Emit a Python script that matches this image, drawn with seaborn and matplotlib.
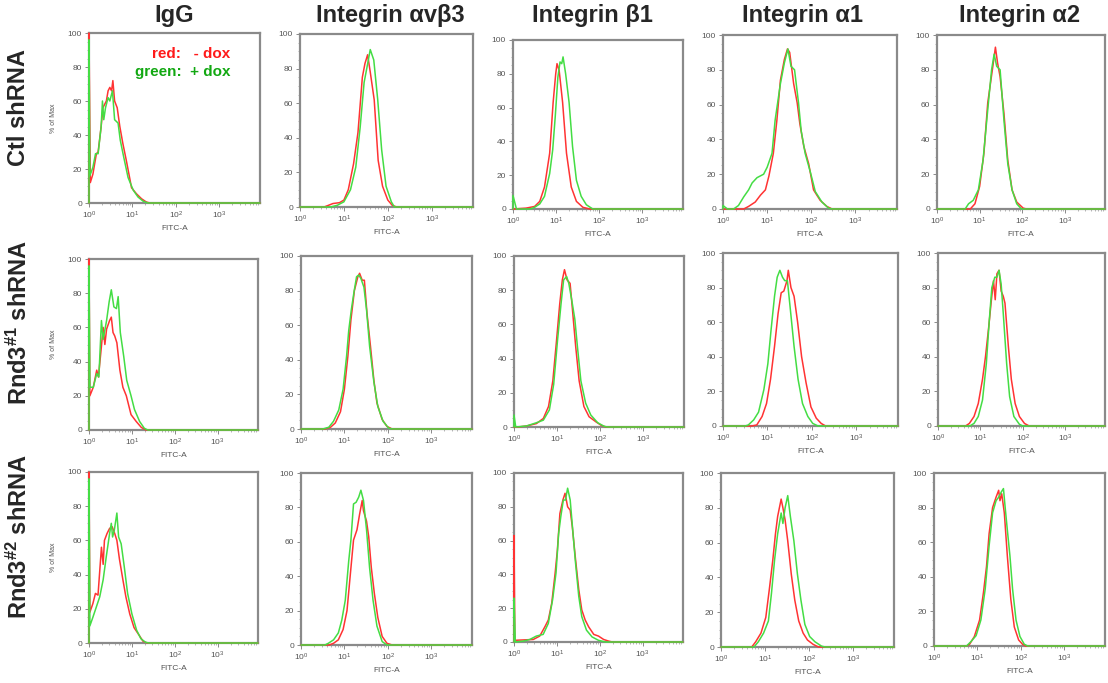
import numpy as np
import matplotlib
matplotlib.use('Agg')
import matplotlib.pyplot as plt
import seaborn as sns
from matplotlib.ticker import LogLocator, MultipleLocator, NullFormatter

# flow histograms: (log10 FITC, % of max)
ctl_igg_red = [(0, 100), (0.03, 12), (0.09, 17), (0.17, 29), (0.21, 30), (0.28, 45), (0.32, 56), (0.4, 60), (0.44, 66),
               (0.48, 68), (0.52, 66), (0.55, 72), (0.59, 60), (0.65, 56), (0.71, 45), (0.78, 35), (0.86, 25), (0.98, 9),
               (1.09, 5.5), (1.21, 2.5), (1.32, 0.6), (1.4, 0)]
ctl_igg_green = [(0, 96), (0.02, 16), (0.09, 21), (0.15, 29), (0.21, 29), (0.28, 45), (0.31, 60), (0.34, 49), (0.38, 56),
                 (0.44, 62), (0.48, 60), (0.54, 66), (0.59, 49), (0.67, 47), (0.72, 37), (0.8, 27), (0.9, 15), (1.02, 7.5),
                 (1.13, 3.5), (1.25, 1), (1.36, 0)]
ctl_avb3_red = [(0.55, 0), (0.65, 1), (0.75, 2), (0.9, 2.5), (1.0, 4), (1.1, 10), (1.22, 25), (1.32, 43), (1.42, 75),
                (1.48, 83), (1.54, 88), (1.6, 78), (1.69, 62), (1.78, 27), (1.88, 12), (2.0, 4), (2.1, 1), (2.2, 0)]
ctl_avb3_green = [(0.7, 0), (0.85, 1), (1.0, 3), (1.15, 10), (1.27, 23), (1.37, 46), (1.46, 72), (1.52, 80), (1.6, 91),
                  (1.68, 85), (1.77, 62), (1.86, 33), (1.96, 12), (2.08, 3), (2.15, 0)]
ctl_b1_red = [(0.3, 0.5), (0.5, 1.5), (0.62, 4.5), (0.73, 13), (0.85, 33), (0.93, 63), (0.99, 80), (1.02, 86), (1.07, 82),
              (1.15, 63), (1.24, 33), (1.35, 13), (1.47, 4.5), (1.62, 1), (1.78, 0)]
ctl_b1_green = [(0, 8), (0.05, 3), (0.08, 0), (0.4, 0), (0.5, 1), (0.62, 3), (0.73, 7.5), (0.85, 21), (0.92, 35),
                (0.98, 55), (1.04, 78), (1.09, 87), (1.13, 86), (1.16, 90), (1.22, 80), (1.3, 63), (1.38, 37), (1.47, 17),
                (1.58, 7.5), (1.7, 2.5), (1.85, 0)]
ctl_a1_red = [(0.47, 0), (0.58, 1.5), (0.73, 4), (0.85, 8), (0.96, 11), (1.04, 19), (1.14, 32), (1.22, 51), (1.3, 74),
              (1.39, 86), (1.46, 92), (1.51, 90), (1.6, 72), (1.68, 61), (1.74, 49), (1.83, 36), (1.94, 26), (2.05, 11),
              (2.2, 5), (2.35, 1.5), (2.47, 0)]
ctl_a1_green = [(0, 2), (0.1, 0), (0.24, 0), (0.35, 2), (0.47, 7), (0.58, 11), (0.66, 15), (0.77, 18), (0.92, 20),
                (1.0, 24), (1.11, 32), (1.18, 51), (1.3, 72), (1.39, 84), (1.47, 92), (1.54, 82), (1.62, 80), (1.71, 61),
                (1.77, 45), (1.86, 32), (1.98, 21), (2.09, 10), (2.24, 4), (2.39, 0.5), (2.47, 0)]
ctl_a2_red = [(0.78, 0), (0.89, 3), (1.0, 13), (1.1, 32), (1.19, 61), (1.31, 82), (1.37, 93), (1.42, 84), (1.48, 76),
              (1.57, 55), (1.66, 28), (1.76, 11), (1.87, 4), (2.02, 0.5), (2.1, 0)]
ctl_a2_green = [(0.66, 0), (0.74, 3), (0.85, 5), (0.97, 11), (1.08, 28), (1.19, 57), (1.28, 80), (1.34, 89), (1.4, 82),
                (1.48, 80), (1.57, 51), (1.66, 26), (1.76, 11), (1.87, 3), (1.98, 0)]

r1_igg_red = [(0, 100), (0.02, 20), (0.1, 25), (0.18, 35), (0.22, 31), (0.29, 49), (0.33, 60), (0.37, 50), (0.41, 59),
              (0.48, 64), (0.52, 66), (0.56, 57), (0.6, 55), (0.65, 51), (0.72, 35), (0.79, 25), (0.87, 20), (0.98, 9),
              (1.1, 5), (1.22, 1.5), (1.33, 0)]
r1_igg_green = [(0, 96), (0.02, 25), (0.1, 25), (0.18, 33), (0.23, 31), (0.29, 64), (0.33, 53), (0.41, 64), (0.47, 75),
                (0.52, 82), (0.58, 72), (0.64, 71), (0.68, 78), (0.73, 57), (0.81, 43), (0.88, 29), (0.98, 20), (1.06, 12),
                (1.18, 5), (1.29, 1), (1.37, 0)]
r1_avb3_red = [(0.55, 0), (0.68, 1), (0.79, 3.5), (0.91, 10), (1.0, 23), (1.08, 42), (1.15, 63), (1.23, 80), (1.31, 88),
               (1.35, 90), (1.41, 86), (1.46, 86), (1.52, 67), (1.6, 48), (1.68, 28), (1.75, 15), (1.87, 5.5), (1.98, 1.5),
               (2.1, 0)]
r1_avb3_green = [(0.5, 0), (0.64, 1), (0.75, 4.5), (0.87, 11), (0.97, 23), (1.05, 42), (1.1, 57), (1.16, 69), (1.22, 79),
                 (1.28, 88), (1.33, 89), (1.38, 87), (1.45, 82), (1.51, 69), (1.58, 48), (1.68, 27), (1.77, 13),
                 (1.89, 4.5), (2.02, 0.5), (2.1, 0)]
r1_b1_red = [(0.1, 0), (0.29, 0.6), (0.52, 2), (0.68, 5), (0.8, 12), (0.9, 27), (0.98, 49), (1.06, 72), (1.12, 86),
             (1.17, 92), (1.23, 86), (1.3, 84), (1.35, 70), (1.43, 47), (1.51, 27), (1.62, 12), (1.74, 6), (1.9, 3),
             (2.02, 1), (2.13, 0)]
r1_b1_green = [(0, 7), (0.04, 0), (0.29, 0.6), (0.52, 2.5), (0.68, 4), (0.82, 10), (0.92, 25), (1.01, 51), (1.09, 72),
               (1.15, 86), (1.22, 88), (1.27, 84), (1.34, 74), (1.41, 63), (1.47, 47), (1.55, 27), (1.66, 14), (1.78, 7),
               (1.94, 2.5), (2.09, 0.4), (2.17, 0)]
r1_a1_red = [(0.65, 0), (0.76, 0.6), (0.88, 5.5), (0.98, 13), (1.07, 27), (1.16, 46), (1.24, 65), (1.31, 77), (1.37, 78),
             (1.44, 84), (1.47, 90), (1.53, 80), (1.6, 75), (1.68, 60), (1.77, 40), (1.87, 25), (1.98, 11), (2.1, 4.5),
             (2.21, 1.5), (2.31, 0)]
r1_a1_green = [(0.5, 0), (0.57, 0.6), (0.69, 3.5), (0.8, 8), (0.92, 21), (1.01, 36), (1.08, 55), (1.16, 75), (1.22, 86),
               (1.28, 90), (1.34, 86), (1.39, 84), (1.45, 84), (1.51, 69), (1.6, 46), (1.69, 27), (1.79, 13), (1.91, 5.5),
               (2.02, 1.5), (2.14, 0)]
r1_a2_red = [(0.65, 0), (0.74, 1.5), (0.85, 5.5), (0.95, 13), (1.05, 27), (1.12, 40), (1.2, 58), (1.26, 73), (1.31, 84),
             (1.35, 73), (1.39, 88), (1.44, 90), (1.49, 78), (1.54, 75), (1.58, 71), (1.66, 46), (1.73, 27), (1.82, 13),
             (1.92, 5.5), (2.04, 1.5), (2.15, 0)]
r1_a2_green = [(0.75, 0), (0.85, 1.5), (0.95, 5.5), (1.05, 15), (1.14, 36), (1.21, 61), (1.27, 80), (1.34, 86), (1.39, 86),
               (1.44, 90), (1.49, 82), (1.54, 65), (1.62, 36), (1.69, 17), (1.79, 5.5), (1.92, 1), (2.0, 0)]

r2_igg_red = [(0, 100), (0.02, 18), (0.09, 23), (0.15, 29), (0.21, 28), (0.29, 56), (0.33, 46), (0.36, 60), (0.42, 64),
              (0.48, 67), (0.54, 68), (0.6, 64), (0.65, 60), (0.71, 49), (0.79, 37), (0.86, 27), (0.95, 17), (1.05, 9),
              (1.17, 4.5), (1.26, 1), (1.36, 0)]
r2_igg_green = [(0, 96), (0.02, 10), (0.09, 15), (0.17, 21), (0.25, 27), (0.33, 37), (0.4, 50), (0.48, 64), (0.52, 70),
                (0.55, 62), (0.59, 66), (0.65, 76), (0.69, 62), (0.75, 58), (0.82, 45), (0.9, 29), (1.0, 17), (1.11, 7.5),
                (1.21, 2.5), (1.32, 0.4), (1.4, 0)]
r2_avb3_red = [(0.65, 0), (0.75, 1), (0.86, 3), (0.97, 9), (1.06, 20), (1.14, 42), (1.21, 61), (1.29, 67), (1.35, 76),
               (1.41, 84), (1.44, 78), (1.51, 72), (1.56, 63), (1.62, 45), (1.69, 30), (1.77, 16), (1.87, 5), (1.98, 1),
               (2.1, 0)]
r2_avb3_green = [(0.55, 0), (0.63, 1), (0.75, 3), (0.86, 7), (0.94, 14.5), (1.02, 26), (1.1, 49), (1.15, 61), (1.21, 82),
                 (1.27, 83), (1.33, 86), (1.38, 90), (1.44, 84), (1.51, 67), (1.58, 45), (1.66, 26), (1.75, 11), (1.87, 2),
                 (1.98, 0)]
r2_b1_red = [(0, 63), (0.02, 1), (0.45, 1.5), (0.6, 3.5), (0.72, 9), (0.8, 13), (0.88, 23), (0.96, 41), (1.01, 54),
             (1.07, 76), (1.14, 84), (1.19, 88), (1.25, 80), (1.31, 78), (1.36, 68), (1.43, 50), (1.51, 31), (1.58, 19),
             (1.66, 13), (1.74, 9), (1.86, 4.5), (1.97, 3.5), (2.09, 1.5), (2.21, 0.5), (2.29, 0)]
r2_b1_green = [(0, 26), (0.03, 0), (0.21, 0.5), (0.37, 1.5), (0.52, 3.5), (0.68, 4.5), (0.8, 11), (0.9, 25), (0.98, 41),
               (1.04, 64), (1.09, 74), (1.15, 84), (1.2, 84), (1.25, 91), (1.31, 84), (1.37, 66), (1.43, 48), (1.51, 27),
               (1.58, 15), (1.69, 7), (1.82, 3), (1.97, 1), (2.13, 0)]
r2_a1_red = [(0.7, 0), (0.79, 3), (0.91, 8), (1.02, 17), (1.1, 33), (1.18, 50), (1.24, 65), (1.29, 75), (1.33, 80),
             (1.37, 85), (1.41, 80), (1.46, 73), (1.52, 61), (1.6, 42), (1.68, 27), (1.77, 15), (1.87, 8), (1.97, 4),
             (2.1, 1.5), (2.22, 0)]
r2_a1_green = [(0.75, 0), (0.85, 3), (0.97, 8), (1.08, 15), (1.15, 31), (1.22, 50), (1.29, 65), (1.37, 77), (1.41, 71),
               (1.46, 80), (1.52, 87), (1.58, 75), (1.66, 61), (1.74, 42), (1.82, 27), (1.91, 13), (2.02, 6), (2.14, 3),
               (2.29, 0.5), (2.37, 0)]
r2_a2_red = [(0.75, 0), (0.82, 1), (0.93, 5.5), (1.05, 15), (1.14, 31), (1.21, 46), (1.27, 65), (1.35, 80), (1.43, 86),
             (1.49, 90), (1.52, 84), (1.56, 88), (1.62, 77), (1.69, 52), (1.77, 27), (1.85, 11), (1.95, 3.5), (2.04, 1),
             (2.11, 0)]
r2_a2_green = [(0.75, 0), (0.85, 2.5), (0.97, 6), (1.08, 15), (1.18, 33), (1.27, 58), (1.35, 77), (1.43, 84), (1.49, 86),
               (1.55, 89), (1.6, 91), (1.64, 80), (1.69, 67), (1.75, 52), (1.81, 33), (1.89, 15), (1.98, 5.5), (2.08, 1),
               (2.16, 0)]

col_titles = ['IgG', 'Integrin \u03b1v\u03b23', 'Integrin \u03b21', 'Integrin \u03b11', 'Integrin \u03b12']
row_titles = ['Ctl shRNA', r'Rnd3$^{\mathbf{\#1}}$ shRNA', r'Rnd3$^{\mathbf{\#2}}$ shRNA']
x_ticks = [1, 10, 100, 1000]
x_ticklabels = [r'$10^{0}$', r'$10^{1}$', r'$10^{2}$', r'$10^{3}$']
y_ticks = [0, 20, 40, 60, 80, 100]

curves = [
    [(ctl_igg_red, ctl_igg_green), (ctl_avb3_red, ctl_avb3_green), (ctl_b1_red, ctl_b1_green),
     (ctl_a1_red, ctl_a1_green), (ctl_a2_red, ctl_a2_green)],
    [(r1_igg_red, r1_igg_green), (r1_avb3_red, r1_avb3_green), (r1_b1_red, r1_b1_green),
     (r1_a1_red, r1_a1_green), (r1_a2_red, r1_a2_green)],
    [(r2_igg_red, r2_igg_green), (r2_avb3_red, r2_avb3_green), (r2_b1_red, r2_b1_green),
     (r2_a1_red, r2_a1_green), (r2_a2_red, r2_a2_green)],
]

# panel frames in pixels (left, top, right, bottom) - the panels are pasted, not on a strict grid
W, H = 1108, 683
boxes = [
    [(89, 33, 260, 203), (300, 34, 473, 207), (513, 40, 683, 209), (723, 35, 897, 209), (937, 35, 1105, 209)],
    [(89, 259, 258, 430), (301, 256, 472, 429), (514, 256, 684, 427), (723, 253, 898, 426), (938, 253, 1105, 426)],
    [(89, 472, 258, 643), (301, 473, 472, 645), (514, 473, 683, 642), (721, 473, 894, 647), (934, 473, 1105, 646)],
]
XMAX_DEC = 3.94
RED = '#ff3333'
GREEN = '#44dd44'

sns.set_style('white')
plt.rcParams['font.family'] = ['Liberation Sans', 'DejaVu Sans']
plt.rcParams['mathtext.fontset'] = 'custom'
plt.rcParams['mathtext.rm'] = 'Liberation Sans'
plt.rcParams['mathtext.it'] = 'Liberation Sans:italic'
plt.rcParams['mathtext.bf'] = 'Liberation Sans:bold'

fig = plt.figure(figsize=(W / 100, H / 100), dpi=100)


def draw_curve(ax, pts, color):
    d = [0.0] + [p[0] for p in pts] + [XMAX_DEC]
    v = [0.0] + [p[1] for p in pts] + [0.0]
    sns.lineplot(x=10 ** np.array(d), y=v, ax=ax, color=color, lw=1.1, sort=False,
                 estimator=None, zorder=3, clip_on=False)


for r in range(3):
    for c in range(5):
        l, t, rt, b = boxes[r][c]
        ax = fig.add_axes([l / W, 1 - b / H, (rt - l) / W, (b - t) / H])
        red, green = curves[r][c]
        draw_curve(ax, red, RED)
        draw_curve(ax, green, GREEN)

        ax.set_xscale('log')
        ax.set_xlim(1, 10 ** XMAX_DEC)
        ax.set_ylim(0, 100)
        ax.set_xticks(x_ticks)
        ax.set_xticklabels(x_ticklabels)
        ax.xaxis.set_minor_locator(LogLocator(base=10, subs=np.arange(2, 10)))
        ax.xaxis.set_minor_formatter(NullFormatter())
        ax.set_yticks(y_ticks)
        ax.yaxis.set_minor_locator(MultipleLocator(5))
        ax.tick_params(which='both', bottom=True, left=True, direction='out')
        ax.tick_params(which='major', length=3, width=0.6, color='#777777',
                       labelsize=6, labelcolor='#555555', pad=2)
        ax.tick_params(which='minor', length=1.5, width=0.5, color='#999999')
        for sp in ax.spines.values():
            sp.set_color('#8a8a8a')
            sp.set_linewidth(1.6)
        ax.set_xlabel('FITC-A', fontsize=6, color='#555555', labelpad=3)
        if c == 0:
            ax.set_ylabel('% of Max', fontsize=5, color='#555555', labelpad=8)
        else:
            ax.set_ylabel('')

        if r == 0 and c == 0:
            ax.text(0.825, 0.876, 'red:   - dox', transform=ax.transAxes, ha='right', va='center',
                    color='#ff1a1a', fontsize=11, fontweight='bold')
            ax.text(0.825, 0.77, 'green:  + dox', transform=ax.transAxes, ha='right', va='center',
                    color='#12a812', fontsize=11, fontweight='bold')

title_x = [174, 390, 592, 802, 1020]
for c in range(5):
    fig.text(title_x[c] / W, 1 - 22 / H, col_titles[c], ha='center', va='baseline',
             fontsize=17, fontweight='bold')

row_y = [108, 322, 536]
for r in range(3):
    fig.text(19 / W, 1 - row_y[r] / H, row_titles[r], rotation=90, ha='center', va='center',
             fontsize=17, fontweight='bold')

fig.savefig('out.png', dpi=100)
